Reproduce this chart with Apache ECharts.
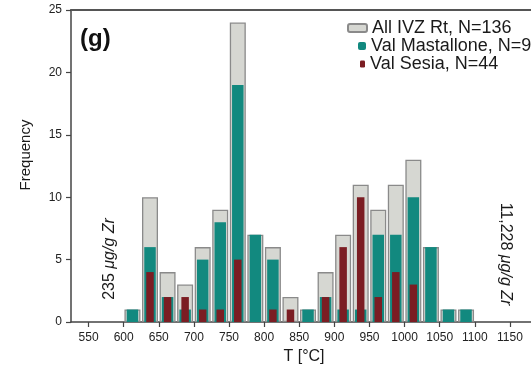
<!DOCTYPE html>
<html>
<head>
<meta charset="utf-8">
<script src="https://cdn.jsdelivr.net/npm/echarts@6/dist/echarts.min.js"></script>
<style>html,body{margin:0;padding:0;background:#fff;}#c{width:531px;height:372px;}</style>
</head>
<body>
<div id="c"></div>
<script>
// Bin centres (25 °C bins from 600 to 1100)
const binCenters = [612.5, 637.5, 662.5, 687.5, 712.5, 737.5, 762.5, 787.5, 812.5, 837.5,
                    862.5, 887.5, 912.5, 937.5, 962.5, 987.5, 1012.5, 1037.5, 1062.5, 1087.5];
const allIVZ      = [1, 10, 4, 3, 6, 9, 24, 7, 6, 2, 1, 4, 7, 11, 9, 11, 13, 6, 1, 1];
const valMastallone = [1, 6, 2, 1, 5, 8, 19, 7, 5, 0, 1, 2, 1, 1, 7, 7, 10, 6, 1, 1];
const valSesia    = [0, 4, 2, 2, 1, 1, 5, 0, 1, 1, 0, 2, 6, 10, 2, 4, 3, 0, 0, 0];
const xTicks = [550, 600, 650, 700, 750, 800, 850, 900, 950, 1000, 1050, 1100, 1150];
const yTicks = [0, 5, 10, 15, 20, 25];
const seriesNames = ['All IVZ Rt, N=136', 'Val Mastallone, N=92', 'Val Sesia, N=44'];

const FONT = 'Liberation Sans, Arial, Helvetica, sans-serif';
const pair = (vals) => binCenters.map((c, i) => [c, vals[i]]);

const chart = echarts.init(document.getElementById('c'), null, {renderer: 'canvas'});
const baseX = {
  type: 'value', min: 525, max: 1180, gridIndex: 0,
  splitLine: {show: false}
};
const legendText = {fontFamily: FONT, fontSize: 18, color: '#1a1a1a'};
chart.setOption({
  animation: false,
  backgroundColor: '#fff',
  grid: {left: 71, top: 10, width: 478, height: 312, containLabel: false},
  legend: [
    {data: [seriesNames[0]], left: 347, top: 19, padding: 0, itemWidth: 19, itemHeight: 8, textStyle: legendText},
    {data: [seriesNames[1]], left: 358, top: 37, padding: 0, itemWidth: 8, itemHeight: 8, textStyle: legendText},
    {data: [seriesNames[2]], left: 360, top: 55, padding: 0, itemWidth: 5, itemHeight: 7, textStyle: legendText}
  ],
  xAxis: [
    Object.assign({}, baseX, {
      position: 'bottom',
      name: 'T [°C]', nameLocation: 'middle', nameGap: 26,
      nameTextStyle: {fontFamily: FONT, fontSize: 16, color: '#1a1a1a', padding: [0, 0, 0, 6]},
      axisLine: {show: true, lineStyle: {color: '#444', width: 1.5}},
      axisTick: {show: true, length: 5, lineStyle: {color: '#444', width: 1.2}, customValues: xTicks},
      axisLabel: {show: true, margin: 10, fontFamily: FONT, fontSize: 12, color: '#222', customValues: xTicks,
        formatter: (v) => String(v)}
    }),
    Object.assign({}, baseX, {
      position: 'top',
      axisLine: {show: true, lineStyle: {color: '#555', width: 2}},
      axisTick: {show: false}, axisLabel: {show: false}
    }),
    Object.assign({}, baseX, {
      show: false
    })
  ],
  yAxis: {
    type: 'value', min: 0, max: 25, interval: 5,
    name: 'Frequency', nameLocation: 'middle', nameGap: 38,
    nameTextStyle: {fontFamily: FONT, fontSize: 15, color: '#1a1a1a', padding: [0, 0, 0, 22]},
    splitLine: {show: false},
    axisLine: {show: true, lineStyle: {color: '#444', width: 1.5}},
    axisTick: {show: true, length: 5, lineStyle: {color: '#444', width: 1.2}},
    axisLabel: {margin: 9, fontFamily: FONT, fontSize: 12, color: '#222', formatter: (v) => String(v)}
  },
  series: [
    {name: seriesNames[0], type: 'bar', xAxisIndex: 0, data: pair(allIVZ), barWidth: 16,
     itemStyle: {color: '#d6d7d2', borderColor: '#8a8a8a', borderWidth: 1.3}},
    {name: seriesNames[1], type: 'bar', xAxisIndex: 1, data: pair(valMastallone), barWidth: 11.5,
     itemStyle: {color: '#12897f'}},
    {name: seriesNames[2], type: 'bar', xAxisIndex: 2, data: pair(valSesia), barWidth: 7.5,
     itemStyle: {color: '#7b1d23'}}
  ],
  graphic: [
    {type: 'text', x: 80, y: 39, style: {text: '(g)', fontFamily: FONT, fontSize: 24, fontWeight: 'bold',
      fill: '#111', verticalAlign: 'middle', align: 'left'}},
    {type: 'text', x: 110, y: 259, rotation: Math.PI / 2,
     style: {text: '{n|235 }{i|μg/g Zr}', align: 'center', verticalAlign: 'middle',
       rich: {n: {fontFamily: FONT, fontSize: 16, fill: '#1a1a1a', color: '#1a1a1a'},
              i: {fontFamily: FONT, fontSize: 16, fontStyle: 'italic', fill: '#1a1a1a', color: '#1a1a1a'}}}},
    {type: 'text', x: 505, y: 254, rotation: -Math.PI / 2,
     style: {text: '{n|11,228 }{i|μg/g Zr}', align: 'center', verticalAlign: 'middle',
       rich: {n: {fontFamily: FONT, fontSize: 16, fill: '#1a1a1a', color: '#1a1a1a'},
              i: {fontFamily: FONT, fontSize: 16, fontStyle: 'italic', fill: '#1a1a1a', color: '#1a1a1a'}}}}
  ]
});
</script>
</body>
</html>
